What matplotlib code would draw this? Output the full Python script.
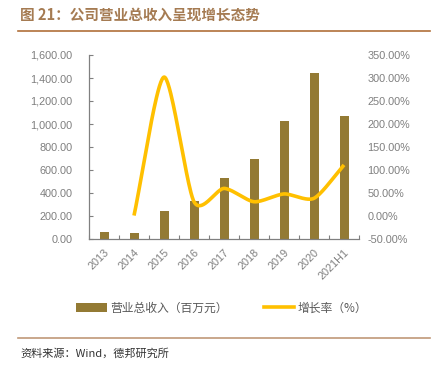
import numpy as np
import matplotlib
matplotlib.use("Agg")
import matplotlib.pyplot as plt
from matplotlib.ticker import FuncFormatter
from matplotlib.lines import Line2D
from matplotlib.patches import Patch

plt.rcParams['font.family'] = ['Liberation Sans', 'Noto Sans CJK SC', 'DejaVu Sans']

categories = ["2013", "2014", "2015", "2016", "2017", "2018", "2019", "2020", "2021H1"]
revenue = [63, 55, 243, 333, 528, 698, 1023, 1441, 1072]
growth_cats = ["2014", "2015", "2016", "2017", "2018", "2019", "2020", "2021H1"]
growth = [1.0, 302.0, 31.0, 60.0, 31.0, 48.0, 38.5, 111.0]

bar_color = "#937A34"
line_color = "#FFC000"
tick_color = "#7F7F7F"

def cardinal(xs, ys, c=0.75, n=40):
    P = np.column_stack([np.asarray(xs, float), np.asarray(ys, float)])
    m = np.zeros_like(P)
    m[1:-1] = c * (P[2:] - P[:-2]) / 2
    m[0] = c * (P[1] - P[0])
    m[-1] = c * (P[-1] - P[-2])
    out = []
    for i in range(len(P) - 1):
        t = np.linspace(0, 1, n, endpoint=(i == len(P) - 2))[:, None]
        h00 = 2*t**3 - 3*t**2 + 1
        h10 = t**3 - 2*t**2 + t
        h01 = -2*t**3 + 3*t**2
        h11 = t**3 - t**2
        out.append(h00*P[i] + h10*m[i] + h01*P[i+1] + h11*m[i+1])
    out = np.vstack(out)
    return out[:, 0], out[:, 1]

fig = plt.figure(figsize=(4.34, 3.67), dpi=100)
ax = fig.add_axes([89/434, 1-239/367, 270/434, 184/367])
x = np.arange(len(categories))
ax.bar(x, revenue, width=0.3, color=bar_color, zorder=2)
ax.set_xlim(-0.5, len(categories)-0.5)
ax.set_ylim(0, 1600)
ax.set_yticks(np.arange(0, 1601, 200))
ax.yaxis.set_major_formatter(FuncFormatter(lambda v, p: f"{v:,.2f}"))
ax.set_xticks(np.arange(-0.5, len(categories), 1.0))
ax.set_xticklabels([])
ax.set_xticks(x, minor=True)
ax.set_xticklabels(categories, minor=True, rotation=45, ha='right', rotation_mode='anchor',
                   fontsize=7.8, color=tick_color)
ax.tick_params(axis='x', which='minor', length=0, pad=6)
ax.tick_params(axis='x', which='major', direction='in', length=3, color='#808080')
ax.tick_params(axis='y', direction='in', length=3, color='#808080', labelsize=7.8,
               labelcolor=tick_color, pad=12)
for s in ['top', 'right']:
    ax.spines[s].set_visible(False)
for s in ['left', 'bottom']:
    ax.spines[s].set_color('#808080')
    ax.spines[s].set_linewidth(0.9)

ax2 = ax.twinx()
gx = [categories.index(c) for c in growth_cats]
sx, sy = cardinal(gx, growth)
ax2.plot(sx, sy, color=line_color, lw=2.6, solid_capstyle='butt', zorder=3)
ax2.set_ylim(-50, 350)
ax2.set_yticks(np.arange(-50, 351, 50))
ax2.yaxis.set_major_formatter(FuncFormatter(lambda v, p: f"{v:.2f}%"))
ax2.tick_params(axis='y', length=0, labelsize=7.8, labelcolor=tick_color, pad=6)
for s in ['top', 'right', 'left', 'bottom']:
    ax2.spines[s].set_visible(False)

handles = [Patch(facecolor=bar_color, edgecolor='none'),
           Line2D([0], [0], color=line_color, lw=2.6)]
fig.legend(handles, ["营业总收入（百万元）", "增长率（%）"], loc='center',
           bbox_to_anchor=(222/434, 1-308/367), ncol=2, frameon=False,
           prop={'family': ['Noto Sans CJK SC'], 'size': 8.5}, labelcolor='#595959',
           handlelength=2.6, handleheight=0.7, columnspacing=3.0, handletextpad=0.3)

fig.text(20/434, 1-15/367, "图 21：公司营业总收入呈现增长态势", fontsize=10.5, fontweight='bold',
         color='#A57B52', va='center', ha='left', family=['Noto Sans CJK SC'])
fig.add_artist(Line2D([18/434, 430/434], [1-31/367, 1-31/367], color='#B0703A', lw=1.2))
fig.add_artist(Line2D([18/434, 430/434], [1-338/367, 1-338/367], color='#C09878', lw=1.2))
fig.text(20/434, 1-353/367, "资料来源：Wind，德邦研究所", fontsize=8, color='#333333',
         va='center', ha='left', family=['Noto Sans CJK SC', 'DejaVu Sans'])

fig.savefig("out.png", dpi=100)
